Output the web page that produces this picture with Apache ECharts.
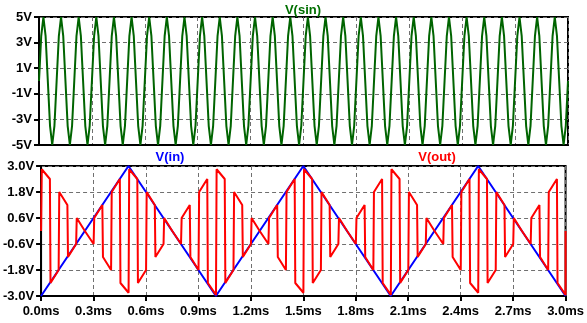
<!DOCTYPE html>
<html>
<head>
<meta charset="utf-8">
<script src="https://cdn.jsdelivr.net/npm/echarts@6/dist/echarts.min.js"></script>
<style>
html,body{margin:0;padding:0;background:#fff;}
#c{width:587px;height:323px;}
</style>
</head>
<body>
<div id="c"></div>
<script>
// ---- data (times in ms, values in V) ----
var xTicks = [0, 0.3, 0.6, 0.9, 1.2, 1.5, 1.8, 2.1, 2.4, 2.7, 3.0];
var sinTicks = [-5, -3, -1, 1, 3, 5];
var outTicks = [-3.0, -1.8, -0.6, 0.6, 1.8, 3.0];

var sinT = [
0,.0125,.025,.0375,.05,.0625,.075,.0875,
.1,.1125,.125,.1375,.15,.1625,.175,.1875,
.2,.2125,.225,.2375,.25,.2625,.275,.2875,
.3,.3125,.325,.3375,.35,.3625,.375,.3875,
.4,.4125,.425,.4375,.45,.4625,.475,.4875,
.5,.5125,.525,.5375,.55,.5625,.575,.5875,
.6,.6125,.625,.6375,.65,.6625,.675,.6875,
.7,.7125,.725,.7375,.75,.7625,.775,.7875,
.8,.8125,.825,.8375,.85,.8625,.875,.8875,
.9,.9125,.925,.9375,.95,.9625,.975,.9875,
1,1.0125,1.025,1.0375,1.05,1.0625,1.075,1.0875,
1.1,1.1125,1.125,1.1375,1.15,1.1625,1.175,1.1875,
1.2,1.2125,1.225,1.2375,1.25,1.2625,1.275,1.2875,
1.3,1.3125,1.325,1.3375,1.35,1.3625,1.375,1.3875,
1.4,1.4125,1.425,1.4375,1.45,1.4625,1.475,1.4875,
1.5,1.5125,1.525,1.5375,1.55,1.5625,1.575,1.5875,
1.6,1.6125,1.625,1.6375,1.65,1.6625,1.675,1.6875,
1.7,1.7125,1.725,1.7375,1.75,1.7625,1.775,1.7875,
1.8,1.8125,1.825,1.8375,1.85,1.8625,1.875,1.8875,
1.9,1.9125,1.925,1.9375,1.95,1.9625,1.975,1.9875,
2,2.0125,2.025,2.0375,2.05,2.0625,2.075,2.0875,
2.1,2.1125,2.125,2.1375,2.15,2.1625,2.175,2.1875,
2.2,2.2125,2.225,2.2375,2.25,2.2625,2.275,2.2875,
2.3,2.3125,2.325,2.3375,2.35,2.3625,2.375,2.3875,
2.4,2.4125,2.425,2.4375,2.45,2.4625,2.475,2.4875,
2.5,2.5125,2.525,2.5375,2.55,2.5625,2.575,2.5875,
2.6,2.6125,2.625,2.6375,2.65,2.6625,2.675,2.6875,
2.7,2.7125,2.725,2.7375,2.75,2.7625,2.775,2.7875,
2.8,2.8125,2.825,2.8375,2.85,2.8625,2.875,2.8875,
2.9,2.9125,2.925,2.9375,2.95,2.9625,2.975,2.9875,
3];
var sinV = [
0,3.5,5,3.5,0,-3.5,-5,-3.5,
0,3.5,5,3.5,0,-3.5,-5,-3.5,
0,3.5,5,3.5,0,-3.5,-5,-3.5,
0,3.5,5,3.5,0,-3.5,-5,-3.5,
0,3.5,5,3.5,0,-3.5,-5,-3.5,
0,3.5,5,3.5,0,-3.5,-5,-3.5,
0,3.5,5,3.5,0,-3.5,-5,-3.5,
0,3.5,5,3.5,0,-3.5,-5,-3.5,
0,3.5,5,3.5,0,-3.5,-5,-3.5,
0,3.5,5,3.5,0,-3.5,-5,-3.5,
0,3.5,5,3.5,0,-3.5,-5,-3.5,
0,3.5,5,3.5,0,-3.5,-5,-3.5,
0,3.5,5,3.5,0,-3.5,-5,-3.5,
0,3.5,5,3.5,0,-3.5,-5,-3.5,
0,3.5,5,3.5,0,-3.5,-5,-3.5,
0,3.5,5,3.5,0,-3.5,-5,-3.5,
0,3.5,5,3.5,0,-3.5,-5,-3.5,
0,3.5,5,3.5,0,-3.5,-5,-3.5,
0,3.5,5,3.5,0,-3.5,-5,-3.5,
0,3.5,5,3.5,0,-3.5,-5,-3.5,
0,3.5,5,3.5,0,-3.5,-5,-3.5,
0,3.5,5,3.5,0,-3.5,-5,-3.5,
0,3.5,5,3.5,0,-3.5,-5,-3.5,
0,3.5,5,3.5,0,-3.5,-5,-3.5,
0,3.5,5,3.5,0,-3.5,-5,-3.5,
0,3.5,5,3.5,0,-3.5,-5,-3.5,
0,3.5,5,3.5,0,-3.5,-5,-3.5,
0,3.5,5,3.5,0,-3.5,-5,-3.5,
0,3.5,5,3.5,0,-3.5,-5,-3.5,
0,3.5,5,3.5,0,-3.5,-5,-3.5,
0];

var inT = [0, 0.5, 1, 1.5, 2, 2.5, 3];
var inV = [-3, 3, -3, 3, -3, 3, -3];

var outT = [0,
.004,.0505, .054,.1005, .104,.1505, .154,.2005, .204,.2505,
.254,.3005, .304,.3505, .354,.4005, .404,.4505, .454,.5005,
.504,.5505, .554,.6005, .604,.6505, .654,.7005, .704,.7505,
.754,.8005, .804,.8505, .854,.9005, .904,.9505, .954,1.0005,
1.004,1.0505, 1.054,1.1005, 1.104,1.1505, 1.154,1.2005, 1.204,1.2505,
1.254,1.3005, 1.304,1.3505, 1.354,1.4005, 1.404,1.4505, 1.454,1.5005,
1.504,1.5505, 1.554,1.6005, 1.604,1.6505, 1.654,1.7005, 1.704,1.7505,
1.754,1.8005, 1.804,1.8505, 1.854,1.9005, 1.904,1.9505, 1.954,2.0005,
2.004,2.0505, 2.054,2.1005, 2.104,2.1505, 2.154,2.2005, 2.204,2.2505,
2.254,2.3005, 2.304,2.3505, 2.354,2.4005, 2.404,2.4505, 2.454,2.5005,
2.504,2.5505, 2.554,2.6005, 2.604,2.6505, 2.654,2.7005, 2.704,2.7505,
2.754,2.8005, 2.804,2.8505, 2.854,2.9005, 2.904,2.9505, 2.954,3.0,
3.0];
var outV = [0,
2.85,2.4, -2.4,-1.8, 1.8,1.2, -1.2,-0.6, 0.6,0,
-0.05,-0.6, 0.6,1.2, -1.2,-1.8, 1.8,2.4, -2.4,-2.85,
2.85,2.4, -2.4,-1.8, 1.8,1.2, -1.2,-0.6, 0.6,0,
-0.05,-0.6, 0.6,1.2, -1.2,-1.8, 1.8,2.4, -2.4,-2.95,
2.85,2.4, -2.4,-1.8, 1.8,1.2, -1.2,-0.6, 0.6,0,
-0.05,-0.6, 0.6,1.2, -1.2,-1.8, 1.8,2.4, -2.4,-2.85,
2.85,2.4, -2.4,-1.8, 1.8,1.2, -1.2,-0.6, 0.6,0,
-0.05,-0.6, 0.6,1.2, -1.2,-1.8, 1.8,2.4, -2.4,-2.95,
2.85,2.4, -2.4,-1.8, 1.8,1.2, -1.2,-0.6, 0.6,0,
-0.05,-0.6, 0.6,1.2, -1.2,-1.8, 1.8,2.4, -2.4,-2.85,
2.85,2.4, -2.4,-1.8, 1.8,1.2, -1.2,-0.6, 0.6,0,
-0.05,-0.6, 0.6,1.2, -1.2,-1.8, 1.8,2.4, -2.4,-2.95,
0];

// ---- chart ----
// The library starts interval ticks from min; axes are offset so the first tick sits at 0.
var SIN_OFF = 5, OUT_OFF = 3;
function pairs(ts, vs, off) { return ts.map(function (t, i) { return [t, vs[i] + off]; }); }

var FONT = '"Liberation Sans", Arial, sans-serif';
var labelStyle = { color: '#000', fontWeight: 'bold', fontSize: 13, fontFamily: FONT };
var gridDash = { show: true, lineStyle: { color: '#707070', type: [4, 3], width: 1 } };
var axisLine = { show: true, onZero: false, lineStyle: { color: '#000', width: 2 } };
var tick = { show: true, inside: false, length: 5, lineStyle: { color: '#000', width: 2 } };

var chart = echarts.init(document.getElementById('c'), null, { renderer: 'canvas' });
chart.setOption({
  animation: false,
  backgroundColor: '#fff',
  grid: [
    { left: 39, top: 17, width: 529, height: 128, show: true, borderColor: '#000', borderWidth: 2, backgroundColor: 'transparent' },
    { left: 39, top: 166, width: 529, height: 130, show: true, borderColor: '#000', borderWidth: 2, backgroundColor: 'transparent' }
  ],
  xAxis: [
    { gridIndex: 0, type: 'value', min: xTicks[0], max: xTicks[xTicks.length - 1], interval: xTicks[1] - xTicks[0],
      axisLine: axisLine, axisTick: { show: false }, axisLabel: { show: false }, splitLine: gridDash },
    { gridIndex: 1, type: 'value', min: xTicks[0], max: xTicks[xTicks.length - 1], interval: xTicks[1] - xTicks[0],
      axisLine: axisLine, axisTick: tick,
      axisLabel: Object.assign({ margin: 9, formatter: function (v) { return v.toFixed(1) + 'ms'; } }, labelStyle),
      splitLine: gridDash }
  ],
  yAxis: [
    { gridIndex: 0, type: 'value', min: sinTicks[0] + SIN_OFF, max: sinTicks[sinTicks.length - 1] + SIN_OFF,
      interval: sinTicks[1] - sinTicks[0],
      axisLine: axisLine, axisTick: tick,
      axisLabel: Object.assign({ margin: 7, formatter: function (v) { return Math.round(v - SIN_OFF) + 'V'; } }, labelStyle),
      splitLine: gridDash },
    { gridIndex: 1, type: 'value', min: outTicks[0] + OUT_OFF, max: outTicks[outTicks.length - 1] + OUT_OFF,
      interval: 1.2,
      axisLine: axisLine, axisTick: tick,
      axisLabel: Object.assign({ margin: 7, formatter: function (v) { return (v - OUT_OFF).toFixed(1) + 'V'; } }, labelStyle),
      splitLine: gridDash }
  ],
  graphic: [
    { type: 'text', x: 303, y: 10, style: { text: 'V(sin)', fill: '#006f00', font: 'bold 13px ' + FONT, align: 'center', verticalAlign: 'middle' } },
    { type: 'text', x: 170, y: 157, style: { text: 'V(in)', fill: '#0000ff', font: 'bold 13px ' + FONT, align: 'center', verticalAlign: 'middle' } },
    { type: 'text', x: 437, y: 157, style: { text: 'V(out)', fill: '#ff0000', font: 'bold 13px ' + FONT, align: 'center', verticalAlign: 'middle' } }
  ],
  series: [
    { name: 'V(sin)', type: 'line', xAxisIndex: 0, yAxisIndex: 0, data: pairs(sinT, sinV, SIN_OFF),
      symbol: 'none', lineStyle: { color: '#006400', width: 2 }, z: 3 },
    { name: 'V(in)', type: 'line', xAxisIndex: 1, yAxisIndex: 1, data: pairs(inT, inV, OUT_OFF),
      symbol: 'none', lineStyle: { color: '#0000ff', width: 2 }, z: 3 },
    { name: 'V(out)', type: 'line', xAxisIndex: 1, yAxisIndex: 1, data: pairs(outT, outV, OUT_OFF),
      symbol: 'none', lineStyle: { color: '#ff0000', width: 2 }, z: 4 }
  ]
});
</script>
</body>
</html>
